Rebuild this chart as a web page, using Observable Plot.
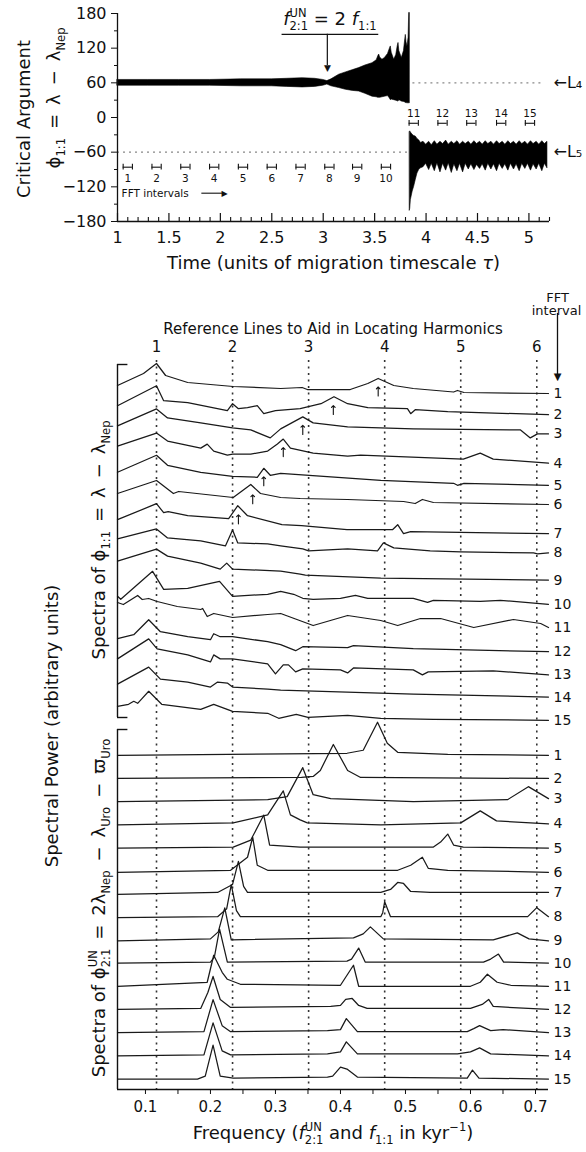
<!DOCTYPE html>
<html><head><meta charset="utf-8">
<script src="https://cdn.jsdelivr.net/npm/d3@7"></script>
<script src="https://cdn.jsdelivr.net/npm/@observablehq/plot@0.6"></script>
<style>
body{margin:0;background:#fff;}
#chart{width:586px;font-family:'DejaVu Sans',sans-serif;}
#chart svg{display:block;background:#fff;}
</style></head><body><div id="chart"></div>
<script>
const FONT = "'DejaVu Sans', sans-serif";

// ---------------- top panel: critical argument vs time (envelope of the oscillation) ----------------
const preT  = [1.00,1.30,1.60,1.90,2.20,2.50,2.65,2.80,2.92,3.00,3.04,3.08,3.155,3.22,3.29,3.349,3.41,3.479,3.52,3.535,3.544,3.553,3.576,3.60,3.63,3.648,3.657,3.666,3.69,3.71,3.725,3.732,3.74,3.764,3.785,3.798,3.803,3.81,3.819,3.83,3.836,3.842];
const preHi = [65,65,65,65,66,66,67,68,67,65,63,66,74,78,82,85.5,90,94,99,106,109,104,100,103,110,119,123,112,100,108,124,129,115,103,115,136,143,130,123,138,181,181];
const preLo = [55,55,55,55,54,54,53,52,53,55,57,54,51,48,46,45,41,36,35,34,34,34,35,36,37,33,30,31,30,29,28,27.5,30,27.5,27,26,25,25,24.6,24.6,24.6,24.6];
const postT  = [3.842,3.846,3.852,3.87,3.884,3.90,3.916,3.935,3.95,
  3.975,4.0,4.03,4.055,4.085,4.11,4.14,4.165,4.195,4.22,4.25,4.275,4.305,4.33,4.36,4.385,4.415,4.44,4.47,4.495,
  4.525,4.55,4.58,4.605,4.635,4.66,4.69,4.715,4.745,4.77,4.8,4.825,4.855,4.88,4.91,4.935,4.965,4.99,5.02,5.045,
  5.075,5.1,5.13,5.155,5.18];
const postHi = [-25,-24,-26,-30,-32,-33,-37,-40,-44,
  -42,-47,-42,-48,-41,-47,-42,-46,-40,-47,-42,-46,-41,-47,-42,-46,-42,-47,-41,-46,
  -42,-47,-41,-46,-42,-47,-41,-46,-42,-47,-41,-46,-42,-47,-41,-46,-42,-47,-41,-46,
  -42,-47,-41,-46,-42];
const postLo = [-161,-158,-143,-128,-120,-108,-97,-90,-88,
  -86,-80,-91,-80,-93,-79,-95,-80,-92,-79,-96,-81,-93,-80,-95,-80,-90,-81,-91,-82,
  -89,-81,-92,-80,-90,-81,-93,-80,-89,-81,-92,-80,-90,-81,-93,-80,-89,-80,-92,-81,
  -90,-80,-93,-80,-88];
const timeTicks = [1,1.5,2,2.5,3,3.5,4,4.5,5];
const phiTicks = [-180,-120,-60,0,60,120,180];
const phiMinor = [-150,-90,-30,30,90,150];
const fftCentersA = [1.10,1.38,1.66,1.94,2.22,2.50,2.78,3.06,3.33,3.61];
const fftLabelsA = ["1","2","3","4","5","6","7","8","9","10"];
const fftCentersB = [3.88,4.16,4.44,4.73,5.01];
const fftLabelsB = ["11","12","13","14","15"];
const libL4 = 60, libL5 = -60;
const tJump = 3.842, tResonance = 3.04;

// ---------------- bottom panel: spectra [frequency (kyr^-1), power (arbitrary)] ----------------
const harmonicFreqs = [0.117,0.234,0.351,0.468,0.585,0.702];
const harmonicLabels = ["1","2","3","4","5","6"];
const freqTicks = [0.1,0.15,0.2,0.25,0.3,0.35,0.4,0.45,0.5,0.55,0.6,0.65,0.7];

const phi11_1  = [[0.057,8],[0.097,20],[0.117,30],[0.131,18],[0.165,11],[0.235,7],[0.308,5],[0.341,6],[0.349,4],[0.415,4],[0.442,10],[0.458,15],[0.482,8],[0.512,5],[0.574,1.5],[0.58,3],[0.59,1],[0.72,0]];
const phi11_2  = [[0.057,11],[0.117,31],[0.128,16],[0.165,14],[0.226,6],[0.234,13],[0.243,8],[0.257,9],[0.272,11],[0.282,3],[0.30,6],[0.338,8],[0.370,13],[0.390,20],[0.411,13],[0.442,9],[0.503,8],[0.508,3],[0.515,7],[0.565,5],[0.72,2]];
const phi11_3  = [[0.057,14],[0.117,31],[0.134,22],[0.185,17],[0.234,12],[0.262,10],[0.292,2],[0.308,11],[0.342,23],[0.358,17],[0.411,13],[0.512,11],[0.677,10],[0.692,2],[0.703,6],[0.72,6]];
const phi11_4  = [[0.057,17],[0.117,30],[0.134,22],[0.185,15],[0.195,19],[0.205,12],[0.226,8],[0.234,9],[0.262,9],[0.288,12],[0.303,19],[0.312,24],[0.323,15],[0.358,10],[0.411,7],[0.431,8],[0.589,4],[0.615,10],[0.635,4],[0.72,0]];
const phi11_5  = [[0.057,14],[0.117,31],[0.134,21],[0.185,14],[0.234,10],[0.272,9],[0.282,18],[0.292,11],[0.308,13],[0.462,6],[0.574,3],[0.58,1],[0.59,3],[0.72,1]];
const phi11_6  = [[0.057,16],[0.117,29],[0.143,16],[0.151,18],[0.235,12],[0.262,25],[0.277,16],[0.308,12],[0.338,11],[0.411,10],[0.497,8],[0.515,6],[0.526,10],[0.543,7],[0.72,5]];
const phi11_7  = [[0.057,13],[0.117,29],[0.128,20],[0.135,21],[0.165,17],[0.228,14],[0.242,27],[0.257,17],[0.31,8],[0.34,7],[0.41,3],[0.48,3],[0.488,8],[0.497,-1],[0.508,1],[0.72,-1]];
const phi11_8  = [[0.057,17],[0.117,27],[0.134,18],[0.185,15],[0.223,10],[0.234,26],[0.242,13],[0.288,12],[0.308,10],[0.342,7],[0.351,5],[0.411,7],[0.457,5],[0.466,13],[0.482,8],[0.538,5],[0.585,4],[0.697,3],[0.703,2],[0.72,3]];
const phi11_9  = [[0.057,18],[0.117,30],[0.134,23],[0.185,16],[0.215,10],[0.225,16],[0.234,10],[0.308,8],[0.338,5],[0.346,4],[0.462,1],[0.72,-1]];
const phi11_10 = [[0.057,6],[0.062,3],[0.111,31],[0.128,13],[0.165,14],[0.214,21],[0.234,6],[0.288,8],[0.308,11],[0.328,8],[0.342,4],[0.358,3],[0.4,4],[0.423,7],[0.442,4],[0.512,4],[0.534,0],[0.543,2],[0.615,1],[0.646,2],[0.72,-2]];
const phi11_11 = [[0.057,23],[0.066,21],[0.088,30],[0.095,26],[0.105,27],[0.118,24],[0.149,19],[0.185,16],[0.188,17],[0.195,9],[0.205,12],[0.234,8],[0.288,11],[0.308,12],[0.358,0],[0.411,10],[0.462,5],[0.488,0],[0.523,7],[0.554,7],[0.605,-2],[0.666,6],[0.708,2],[0.72,-2]];
const phi11_12 = [[0.057,10],[0.082,14],[0.105,29],[0.123,17],[0.165,12],[0.2,9],[0.205,15],[0.215,12],[0.234,12],[0.288,7],[0.308,4],[0.331,-2],[0.342,2],[0.411,1],[0.42,3],[0.512,0],[0.72,-3]];
const phi11_13 = [[0.057,13],[0.105,33],[0.118,23],[0.165,17],[0.2,10],[0.205,17],[0.215,13],[0.234,13],[0.288,8],[0.3,-2],[0.312,7],[0.32,7],[0.331,0],[0.342,3],[0.4,2],[0.411,-1],[0.42,4],[0.512,2],[0.526,-3],[0.535,0],[0.635,1],[0.72,-3]];
const phi11_14 = [[0.057,11],[0.105,28],[0.123,16],[0.165,13],[0.2,8],[0.211,13],[0.226,12],[0.234,8],[0.288,6],[0.308,5],[0.512,1],[0.72,-2]];
const phi11_15 = [[0.057,12],[0.074,14],[0.082,17],[0.088,15],[0.095,20],[0.105,27],[0.125,14],[0.185,9],[0.205,14],[0.234,7],[0.288,5],[0.305,0],[0.332,4],[0.35,1],[0.411,3],[0.462,0],[0.543,-1],[0.72,-2]];

const phi21_1  = [[0.057,-1],[0.41,1],[0.435,4],[0.457,32],[0.472,11],[0.488,2],[0.565,0],[0.72,-1]];
const phi21_2  = [[0.057,-1],[0.34,0],[0.358,1],[0.369,7],[0.389,33],[0.411,7],[0.431,0],[0.72,-1]];
const phi21_3  = [[0.057,-1],[0.288,1],[0.318,4],[0.342,33],[0.358,6],[0.385,2],[0.512,-1],[0.657,1],[0.689,14],[0.72,2]];
const phi21_4  = [[0.057,-1],[0.235,1],[0.288,9],[0.312,33],[0.323,9],[0.338,4],[0.349,1],[0.462,-1],[0.585,1],[0.615,13],[0.64,3],[0.72,0]];
const phi21_5  = [[0.057,-1],[0.235,0],[0.262,7],[0.282,32],[0.291,2],[0.338,0],[0.543,0],[0.554,5],[0.565,13],[0.574,2],[0.589,0],[0.72,-1]];
const phi21_6  = [[0.057,-2],[0.231,0],[0.257,13],[0.265,33],[0.272,5],[0.288,0],[0.488,0],[0.508,5],[0.526,13],[0.535,2],[0.565,0],[0.72,-2]];
const phi21_7  = [[0.057,-1],[0.211,1],[0.234,9],[0.243,32],[0.251,7],[0.257,1],[0.462,1],[0.477,4],[0.488,11],[0.497,10],[0.508,2],[0.538,1],[0.72,1]];
const phi21_8  = [[0.057,-1],[0.211,0],[0.225,8],[0.232,32],[0.24,6],[0.246,0],[0.462,0],[0.465,4],[0.468,15],[0.477,0],[0.688,0],[0.702,9],[0.72,0]];
const phi21_9  = [[0.057,-1],[0.2,1],[0.212,8],[0.222,32],[0.232,0],[0.42,2],[0.435,6],[0.446,13],[0.466,1],[0.635,0],[0.672,7],[0.69,1],[0.72,-1]];
const phi21_10 = [[0.057,0],[0.2,1],[0.206,6],[0.214,34],[0.226,1],[0.41,2],[0.417,4],[0.428,15],[0.438,1],[0.62,1],[0.631,4],[0.643,9],[0.651,1],[0.72,0]];
const phi21_11 = [[0.057,0],[0.195,4],[0.205,31],[0.218,14],[0.226,7],[0.246,2],[0.4,1],[0.42,21],[0.428,0],[0.6,0],[0.615,4],[0.626,12],[0.641,4],[0.662,1],[0.72,0]];
const phi21_12 = [[0.057,0],[0.185,1],[0.196,17],[0.204,33],[0.215,10],[0.231,2],[0.385,3],[0.4,4],[0.408,10],[0.418,11],[0.428,4],[0.441,1],[0.6,1],[0.618,5],[0.628,10],[0.635,3],[0.72,0]];
const phi21_13 = [[0.057,0],[0.19,1],[0.204,33],[0.218,7],[0.231,1],[0.38,2],[0.4,3],[0.409,14],[0.426,1],[0.595,1],[0.605,4],[0.614,7],[0.631,2],[0.65,3],[0.72,0]];
const phi21_14 = [[0.057,0],[0.19,1],[0.204,33],[0.218,5],[0.231,1],[0.38,2],[0.4,4],[0.409,14],[0.426,2],[0.58,2],[0.6,4],[0.614,8],[0.631,2],[0.72,0]];
const phi21_15 = [[0.057,0],[0.18,0],[0.192,3],[0.204,34],[0.215,3],[0.235,1],[0.38,2],[0.388,3],[0.4,12],[0.41,10],[0.426,2],[0.595,1],[0.603,9],[0.613,1],[0.72,0]];

const specPhi11 = [phi11_1,phi11_2,phi11_3,phi11_4,phi11_5,phi11_6,phi11_7,phi11_8,phi11_9,phi11_10,phi11_11,phi11_12,phi11_13,phi11_14,phi11_15];
const specPhi21 = [phi21_1,phi21_2,phi21_3,phi21_4,phi21_5,phi21_6,phi21_7,phi21_8,phi21_9,phi21_10,phi21_11,phi21_12,phi21_13,phi21_14,phi21_15];
const intervalLabels = ["1","2","3","4","5","6","7","8","9","10","11","12","13","14","15"];
// f(2:1) peak frequency marked (small arrows) under the phi(1:1) spectra of intervals 1-7
const f21Marks = [0.458,0.389,0.342,0.312,0.282,0.265,0.243];

// ======================= build top panel =======================
const chart = document.getElementById("chart");
const pre = preT.map((t,i)=>({t, hi: preHi[i], lo: preLo[i]}));
const post = postT.map((t,i)=>({t, hi: postHi[i], lo: postLo[i]}));
const minorT = d3.range(10, 53).map(d => d/10).filter(d => Math.abs(d*2 - Math.round(d*2)) > 1e-6);
const ink = "#111";

const topPlot = Plot.plot({
  width: 586, height: 275,
  marginLeft: 117, marginRight: 37, marginTop: 13, marginBottom: 54,
  style: {fontFamily: FONT, fontSize: "16px", color: ink, background: "#fff"},
  x: {domain: [1, 5.2]},
  y: {domain: [-180, 180]},
  marks: [
    Plot.ruleY([libL5], {x1: 1, x2: tJump - 0.01, stroke: "#888", strokeWidth: 1.2, strokeDasharray: "2,4"}),
    Plot.ruleY([libL4], {x1: tJump + 0.03, x2: 5.12, stroke: "#888", strokeWidth: 1.2, strokeDasharray: "2,4"}),
    Plot.areaY(pre, {x: "t", y1: "lo", y2: "hi", fill: "#000", stroke: "#000", strokeWidth: 0.6}),
    Plot.areaY(post, {x: "t", y1: "lo", y2: "hi", fill: "#000", stroke: "#000", strokeWidth: 0.6}),
    Plot.text(["←L₄"], {x: 5.2, y: libL4, dx: 4, textAnchor: "start", fontSize: 16}),
    Plot.text(["←L₅"], {x: 5.2, y: libL5, dx: 4, textAnchor: "start", fontSize: 16}),
    // FFT interval markers
    Plot.ruleY(fftCentersA, {x1: d => d - 0.045, x2: d => d + 0.045, y: -86, strokeWidth: 1.1}),
    Plot.ruleX(fftCentersA, {x: d => d - 0.045, y1: -91, y2: -81, strokeWidth: 1.1}),
    Plot.ruleX(fftCentersA, {x: d => d + 0.045, y1: -91, y2: -81, strokeWidth: 1.1}),
    Plot.text(fftCentersA, {x: d => d, y: -86, dy: 11, text: (d,i) => fftLabelsA[i], fontSize: 10.5}),
    Plot.ruleY(fftCentersB, {x1: d => d - 0.045, x2: d => d + 0.045, y: -10, strokeWidth: 1.1}),
    Plot.ruleX(fftCentersB, {x: d => d - 0.045, y1: -15, y2: -5, strokeWidth: 1.1}),
    Plot.ruleX(fftCentersB, {x: d => d + 0.045, y1: -15, y2: -5, strokeWidth: 1.1}),
    Plot.text(fftCentersB, {x: d => d, y: -10, dy: -10, text: (d,i) => fftLabelsB[i], fontSize: 10.5}),
    Plot.text(["FFT intervals"], {x: 1.04, y: -131, textAnchor: "start", fontSize: 10.5}),
    Plot.ruleY([-131], {x1: 1.82, x2: 2.02, strokeWidth: 1.1}),
    Plot.text(["▶"], {x: 2.04, y: -131, fontSize: 8}),
    // resonance annotation
    Plot.ruleY([144], {x1: 2.60, x2: 3.54, strokeWidth: 1.2}),
    Plot.ruleX([tResonance], {y1: 144, y2: 90, strokeWidth: 1.2}),
    Plot.text(["▼"], {x: tResonance, y: 86, fontSize: 9}),
    // axes
    Plot.ruleX([1], {y1: -180, y2: 180, strokeWidth: 1.3}),
    Plot.ruleY([-180], {x1: 1, x2: 5.2, strokeWidth: 1.3}),
    Plot.ruleX(timeTicks, {x: d => d, insetTop: 200, strokeWidth: 1.2}),
    Plot.ruleX(minorT, {x: d => d, insetTop: 204, strokeWidth: 1.1}),
    Plot.axisY({ticks: phiTicks, tickSize: 6, tickPadding: 5, label: null, fontSize: 16}),
    Plot.axisY({ticks: phiMinor, tickSize: 3, tickFormat: () => "", label: null}),
    Plot.axisX({ticks: timeTicks, tickSize: 0, tickPadding: 10, label: null, fontSize: 16, tickFormat: d => String(d)})
  ]
});
chart.appendChild(topPlot);

// ======================= build bottom panel =======================
const SP = 23.2, GAP = 15.55;
const rows = [], ends = [], marks = [];
specPhi11.forEach((pts, k) => { pts.forEach(([f,p]) => rows.push({id: "a"+k, f, y: k*SP - p})); const [f,p] = pts[pts.length-1]; ends.push({f, y: k*SP - p, label: intervalLabels[k]}); });
specPhi21.forEach((pts, k) => { pts.forEach(([f,p]) => rows.push({id: "b"+k, f, y: (GAP+k)*SP - p})); const [f,p] = pts[pts.length-1]; ends.push({f, y: (GAP+k)*SP - p, label: intervalLabels[k]}); });
function interp(pts, f) { for (let i = 1; i < pts.length; i++) { if (pts[i][0] >= f) { const [f0,p0] = pts[i-1], [f1,p1] = pts[i]; return p0 + (p1-p0)*(f-f0)/(f1-f0); } } return pts[pts.length-1][1]; }
f21Marks.forEach((f, k) => marks.push({f, y: k*SP - interp(specPhi11[k], f) + 13}));

const fMin = 0.057, fMax = 0.72, yTop = -29, yBot = 696, brA = 324, brB = 336;
const botPlot = Plot.plot({
  width: 586, height: 877,
  marginLeft: 117, marginRight: 38, marginTop: 89, marginBottom: 63,
  style: {fontFamily: FONT, fontSize: "15px", color: ink, background: "#fff"},
  x: {domain: [fMin, fMax]},
  y: {domain: [yTop, yBot], reverse: true, axis: null},
  marks: [
    Plot.ruleX(harmonicFreqs, {x: d => d, y1: -33, y2: yBot, stroke: "#333", strokeWidth: 1.6, strokeDasharray: "2,4.5"}),
    Plot.text(harmonicFreqs, {x: d => d, y: -46, text: (d,i) => harmonicLabels[i], fontSize: 15}),
    Plot.text(["Reference Lines to Aid in Locating Harmonics"], {frameAnchor: "top", dy: -41, fontSize: 15}),
    Plot.line(rows, {x: "f", y: "y", z: "id", stroke: "#1a1a1a", strokeWidth: 1.25}),
    Plot.text(ends, {x: "f", y: "y", text: "label", dx: 5, textAnchor: "start", fontSize: 14}),
    Plot.vector(marks, {x: "f", y: "y", length: 9, anchor: "middle", stroke: "#111", strokeWidth: 1.1}),
    Plot.ruleX([fMin], {y1: yTop, y2: brA, strokeWidth: 1.4}),
    Plot.ruleX([fMin], {y1: brB, y2: yBot, strokeWidth: 1.4}),
    Plot.ruleY([yTop, brA, brB], {x1: fMin, x2: fMin + 0.016, strokeWidth: 1.4}),
    Plot.ruleY([yBot], {x1: fMin, x2: fMax, strokeWidth: 1.4}),
    Plot.axisX({ticks: freqTicks, tickSize: 5, tickPadding: 7, label: null, fontSize: 15,
      tickFormat: d => (Math.abs(d*10 - Math.round(d*10)) < 1e-6 ? d.toFixed(1) : "")}),
    Plot.text(["FFT"], {frameAnchor: "top-right", dx: 9, dy: -72, textAnchor: "middle", fontSize: 13}),
    Plot.text(["interval"], {frameAnchor: "top-right", dx: 8, dy: -59, textAnchor: "middle", fontSize: 13}),
    Plot.ruleX([fMax], {dx: 9, y1: -80, y2: -19, strokeWidth: 1.3}),
    Plot.text(["▼"], {x: fMax, dx: 9, y: -17, fontSize: 10})
  ]
});
chart.appendChild(botPlot);

// ======================= rich text (sub/superscripts) =======================
function rich(svgEl, parts, {x, y, fs = 18, rotate = 0} = {}) {
  const g = d3.select(svgEl).append("g").attr("transform", `translate(${x},${y})` + (rotate ? ` rotate(${rotate})` : ""));
  const t = g.append("text").attr("font-family", FONT).attr("font-size", fs).attr("fill", ink).attr("x", 0).attr("y", 0);
  const small = fs * 0.64, SUP = -0.42 * fs, SUB = 0.3 * fs;
  let shift = 0, extra = 0;
  for (const p of parts) {
    if (p.ss) {
      const a = t.append("tspan").attr("font-size", small).attr("dy", SUP - shift).text(p.ss[0]);
      if (extra) { a.attr("dx", extra); extra = 0; }
      const w1 = a.node().getComputedTextLength();
      const b = t.append("tspan").attr("font-size", small).attr("dx", -w1).attr("dy", SUB - SUP).text(p.ss[1]);
      const w2 = b.node().getComputedTextLength();
      extra = Math.max(0, w1 - w2);
      shift = SUB;
    } else {
      const target = p.sub ? SUB : p.sup ? SUP : 0;
      const s = t.append("tspan").attr("dy", target - shift).text(p.t);
      if (p.sub || p.sup) s.attr("font-size", small);
      if (p.it) s.attr("font-style", "italic");
      if (extra) { s.attr("dx", extra); extra = 0; }
      shift = target;
    }
  }
  const bb = t.node().getBBox();
  t.attr("x", -bb.x - bb.width / 2);
}
const sp = "\u2002";
const xT = topPlot.scale("x"), yT = topPlot.scale("y");
rich(topPlot, [{t: "Critical Argument"}], {x: 30, y: 119, rotate: -90});
rich(topPlot, [{t: "ϕ"}, {t: "1:1", sub: 1}, {t: sp + "=" + sp + "λ" + sp + "−" + sp + "λ"}, {t: "Nep", sub: 1}], {x: 60, y: 98, rotate: -90});
rich(topPlot, [{t: "Time (units of migration timescale "}, {t: "τ", it: 1}, {t: ")"}], {x: 333, y: 269});
rich(topPlot, [{t: "f", it: 1}, {ss: ["UN", "2:1"]}, {t: " = 2 "}, {t: "f", it: 1}, {t: "1:1", sub: 1}], {x: xT.apply(3.07), y: yT.apply(144) - 9, fs: 18});

rich(botPlot, [{t: "Spectral Power (arbitrary units)"}], {x: 58, y: 451, rotate: -90});
rich(botPlot, [{t: "Spectra of ϕ"}, {t: "1:1", sub: 1}, {t: sp + "=" + sp + "λ" + sp + "−" + sp + "λ"}, {t: "Nep", sub: 1}], {x: 105, y: 265, rotate: -90});
rich(botPlot, [{t: "Spectra of ϕ"}, {ss: ["UN", "2:1"]}, {t: sp + "=" + sp + "2λ"}, {t: "Nep", sub: 1}, {t: sp + "−" + sp + "λ"}, {t: "Uro", sub: 1}, {t: sp + "−" + sp + "ϖ"}, {t: "Uro", sub: 1}], {x: 105, y: 633, rotate: -90});
rich(botPlot, [{t: "Frequency ("}, {t: "f", it: 1}, {ss: ["UN", "2:1"]}, {t: " and "}, {t: "f", it: 1}, {t: "1:1", sub: 1}, {t: " in kyr"}, {t: "−1", sup: 1}, {t: ")"}], {x: 333, y: 864});
</script></body></html>
